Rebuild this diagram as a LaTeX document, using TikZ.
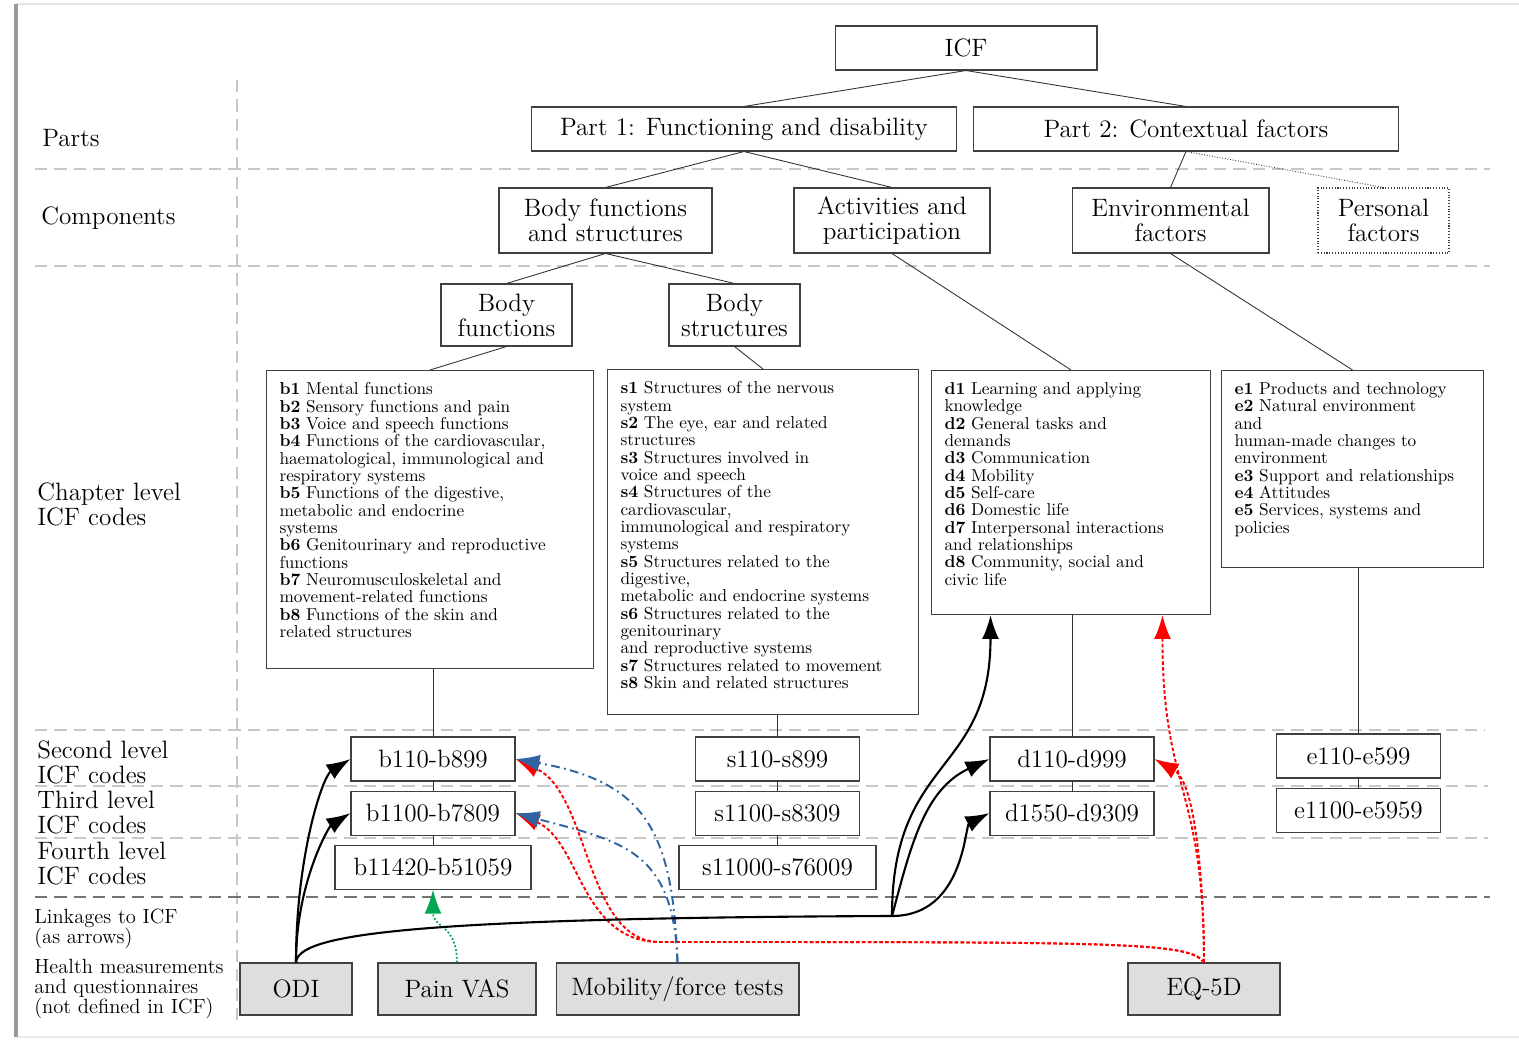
\documentclass[tikz,border=0pt]{standalone}
\usepackage{fontspec}
\usepackage{tikz}
\usetikzlibrary{positioning, arrows.meta}

\definecolor{icfblue}{RGB}{46,100,160}
\definecolor{icfgreen}{RGB}{0,166,81}
\definecolor{boxgray}{RGB}{222,222,222}
\definecolor{sepgray}{RGB}{200,200,200}

\newcommand{\icfbig}{\fontsize{14.3}{14.2}\selectfont}
\newcommand{\icfcode}{\fontsize{14.3}{14.2}\selectfont\addfontfeature{FakeStretch=1.02}}
\newcommand{\icfmeas}{\fontsize{14.3}{14.2}\selectfont\addfontfeature{FakeStretch=1.06}}
\newcommand{\icfchap}{\fontsize{9.8}{9.87}\selectfont}
\newcommand{\icfsmall}{\fontsize{11.7}{11.4}\selectfont}

\begin{document}
\begin{tikzpicture}[x=0.02cm, y=0.02cm, node distance=0.18cm,
	>={Latex[length=0.48cm,width=0.34cm]},
	box/.style={draw=black!75, line width=0.6pt, inner sep=0pt, align=center, font=\icfbig},
	codebox/.style={box, minimum width=3.28cm, minimum height=0.88cm, font=\icfcode},
	chapbox/.style={draw=black!75, line width=0.6pt, anchor=north west, inner xsep=0.26cm, inner ysep=0.24cm, font=\icfchap},
	measbox/.style={box, fill=boxgray, minimum height=1.04cm, font=\icfmeas},
	rowlabel/.style={anchor=west, align=left, inner sep=0pt, font=\icfbig},
	sepline/.style={sepgray, dash pattern=on 7pt off 4pt, line width=0.8pt},
	tree/.style={black!80, line width=0.5pt},
	link/.style={line width=1.2pt},
	eqlink/.style={->, red, line width=1.1pt, dash pattern=on 2pt off 1.3pt},
	moblink/.style={->, icfblue, line width=1.1pt, dash pattern=on 5pt off 2.5pt on 1pt off 2.5pt},
	painlink/.style={->, icfgreen, line width=1pt, dash pattern=on 1pt off 1.2pt}]
	\useasboundingbox (0,0) rectangle (1519,1039);

	% frame and row separators
	\draw[black!10, line width=1pt] (16,1035) -- (1519,1035);
	\draw[black!8, line width=1pt] (16,2) -- (1519,2);
	\draw[black!40, line width=2pt] (16,1035) -- (16,2);
	\draw[sepline] (237,959) -- (237,14);
	\draw[sepline] (35,870) -- (1490,870);
	\draw[sepline] (35,773) -- (1490,773);
	\draw[sepline] (35,309) -- (1485,309);
	\draw[sepline] (35,253) -- (1488,253);
	\draw[sepline] (35,201) -- (1488,201);
	\draw[sepline, black!55] (35,142) -- (1490,142);

	\node[rowlabel] (lparts) at (42,901) {Parts};
	\node[rowlabel] (lcomp) at (41,821) {Components};
	\node[rowlabel] (lchap) at (37,535) {Chapter level\\ICF codes};
	\node[rowlabel] (lsecond) at (37,276.5) {Second level\\ICF codes};
	\node[rowlabel] (lthird) at (37,226) {Third level\\ICF codes};
	\node[rowlabel] (lfourth) at (37,175.5) {Fourth level\\ICF codes};
	\node[rowlabel, font=\icfsmall] (llink) at (34,110) {Linkages to ICF\\(as arrows)};
	\node[rowlabel, font=\icfsmall] (lmeas) at (34,50) {Health measurements\\and questionnaires\\(not defined in ICF)};

	% ICF tree
	\node[box, minimum width=5.24cm, minimum height=0.88cm] (icf) at (966,991) {ICF};
	\node[box, minimum width=8.52cm, minimum height=0.88cm] (part1) at (744,910) {Part 1: Functioning and disability};
	\node[box, minimum width=8.52cm, minimum height=0.88cm] (part2) at (1186,910) {Part 2: Contextual factors};
	\node[box, minimum width=4.26cm, minimum height=1.3cm] (bfs) at (605.5,818.5) {Body functions\\and structures};
	\node[box, minimum width=3.92cm, minimum height=1.3cm] (ap) at (892,818.5) {Activities and\\participation};
	\node[box, minimum width=3.94cm, minimum height=1.3cm] (env) at (1170.5,818.5) {Environmental\\factors};
	\node[box, densely dotted, minimum width=2.62cm, minimum height=1.3cm] (pers) at (1383.5,818.5) {Personal\\factors};
	\node[box, minimum width=2.62cm, minimum height=1.24cm] (bf) at (506.5,724) {Body\\functions};
	\node[box, minimum width=2.62cm, minimum height=1.24cm] (bs) at (734.5,724) {Body\\structures};

	\node[chapbox] (bchap) at (266,669) {\parbox[t][5.48cm][t]{6.02cm}{\raggedright
		\textbf{b1} Mental functions\\
		\textbf{b2} Sensory functions and pain\\
		\textbf{b3} Voice and speech functions\\
		\textbf{b4} Functions of the cardiovascular,\\
		haematological, immunological and\\
		respiratory systems\\
		\textbf{b5} Functions of the digestive,\\
		metabolic and endocrine\\
		systems\\
		\textbf{b6} Genitourinary and reproductive\\
		functions\\
		\textbf{b7} Neuromusculoskeletal and\\
		movement-related functions\\
		\textbf{b8} Functions of the skin and\\
		related structures}};
	\node[chapbox] (schap) at (607,670) {\parbox[t][6.42cm][t]{5.70cm}{\raggedright
		\textbf{s1} Structures of the nervous\\
		system\\
		\textbf{s2} The eye, ear and related\\
		structures\\
		\textbf{s3} Structures involved in\\
		voice and speech\\
		\textbf{s4} Structures of the\\
		cardiovascular,\\
		immunological and respiratory\\
		systems\\
		\textbf{s5} Structures related to the\\
		digestive,\\
		metabolic and endocrine systems\\
		\textbf{s6} Structures related to the\\
		genitourinary\\
		and reproductive systems\\
		\textbf{s7} Structures related to movement\\
		\textbf{s8} Skin and related structures}};
	\node[chapbox] (dchap) at (931,669) {\parbox[t][4.40cm][t]{5.06cm}{\raggedright
		\textbf{d1} Learning and applying\\
		knowledge\\
		\textbf{d2} General tasks and\\
		demands\\
		\textbf{d3} Communication\\
		\textbf{d4} Mobility\\
		\textbf{d5} Self-care\\
		\textbf{d6} Domestic life\\
		\textbf{d7} Interpersonal interactions\\
		and relationships\\
		\textbf{d8} Community, social and\\
		civic life}};
	\node[chapbox] (echap) at (1221,669) {\parbox[t][3.46cm][t]{4.72cm}{\raggedright
		\textbf{e1} Products and technology\\
		\textbf{e2} Natural environment\\
		and\\
		human-made changes to\\
		environment\\
		\textbf{e3} Support and relationships\\
		\textbf{e4} Attitudes\\
		\textbf{e5} Services, systems and\\
		policies}};

	% code levels
	\node[codebox] (b2) at (433,280) {b110-b899};
	\node[codebox, below=of b2] (b3) {b1100-b7809};
	\node[codebox, minimum width=3.92cm, below=of b3] (b4) {b11420-b51059};
	\node[codebox] (s2) at (777.5,280) {s110-s899};
	\node[codebox, below=of s2] (s3) {s1100-s8309};
	\node[codebox, minimum width=3.94cm, below=of s3] (s4) {s11000-s76009};
	\node[codebox] (d2) at (1072,280) {d110-d999};
	\node[codebox, below=of d2] (d3) {d1550-d9309};
	\node[codebox] (e2) at (1358.5,283) {e110-e599};
	\node[codebox, below=of e2] (e3) {e1100-e5959};

	% measurements
	\node[measbox, minimum width=2.24cm] (odi) at (296,50) {ODI};
	\node[measbox, minimum width=3.16cm] (pain) at (457,50) {Pain VAS};
	\node[measbox, minimum width=4.86cm] (mob) at (677.5,50) {Mobility/force tests};
	\node[measbox, minimum width=3.04cm] (eq) at (1204,50) {EQ-5D};

	\draw[tree] (icf.south) -- (part1.north);
	\draw[tree] (icf.south) -- (part2.north);
	\draw[tree] (part1.south) -- (bfs.north);
	\draw[tree] (part1.south) -- (ap.north);
	\draw[tree] (part2.south) -- (env.north);
	\draw[tree, densely dotted] (part2.south) -- (pers.north);
	\draw[tree] (bfs.south) -- (bf.north);
	\draw[tree] (bfs.south) -- (bs.north);
	\draw[tree] (bf.south) -- (bchap.north);
	\draw[tree] (bs.south) -- (schap.north);
	\draw[tree] (ap.south) -- (dchap.north);
	\draw[tree] (env.south) -- (echap.north);
	\draw[tree] (b2.north) -- (b2.north |- bchap.south);
	\draw[tree] (s2.north) -- (s2.north |- schap.south);
	\draw[tree] (d2.north) -- (d2.north |- dchap.south);
	\draw[tree] (e2.north) -- (e2.north |- echap.south);
	\draw[tree] (b2) -- (b3) (b3) -- (b4);
	\draw[tree] (s2) -- (s3) (s3) -- (s4);
	\draw[tree] (d2) -- (d3);
	\draw[tree] (e2) -- (e3);

	% linkages
	\coordinate (junc) at (892,123);
	\coordinate (rl) at (660,97);
	\draw[eqlink] (eq.north) .. controls (1190,97) and (1120,97) .. (rl) to[out=180,in=-25,out looseness=0.82,in looseness=0.9] (b2.east);
	\draw[eqlink] (eq.north) .. controls (1190,97) and (1120,97) .. (rl) to[out=180,in=-23,out looseness=1.05,in looseness=0.93] (b3.east);
	\draw[eqlink] (eq.north) to[out=90,in=-90,looseness=1.3] ([xshift=1.83cm]dchap.south);
	\draw[eqlink] (eq.north) to[out=90,in=-30,out looseness=0.8,in looseness=0.6] (d2.east);
	\draw[moblink] (mob.north) to[out=92,in=-10,looseness=1.3] (b2.east);
	\draw[moblink] (mob.north) to[out=92,in=-15,looseness=1.3] (b3.east);
	\draw[painlink] (pain.north) to[out=90,in=-90,looseness=1.3] (b4.south);
	\draw[link,->] (odi.north) to[out=90,in=212,out looseness=1.3,in looseness=0.4] (b2.west);
	\draw[link,->] (odi.north) to[out=90,in=212,out looseness=1.3,in looseness=0.4] (b3.west);
	\draw[link] (odi.north) .. controls (298,104) and (400,121) .. (junc);
	\draw[link,->] (junc) to[out=90,in=-90,looseness=1.3] ([xshift=-1.61cm]dchap.south);
	\draw[link,->] (junc) to[out=75,in=205] (d2.west);
	\draw[link,->] (junc) to[out=0,in=207,out looseness=1.3,in looseness=0.5] (d3.west);
\end{tikzpicture}
\end{document}
